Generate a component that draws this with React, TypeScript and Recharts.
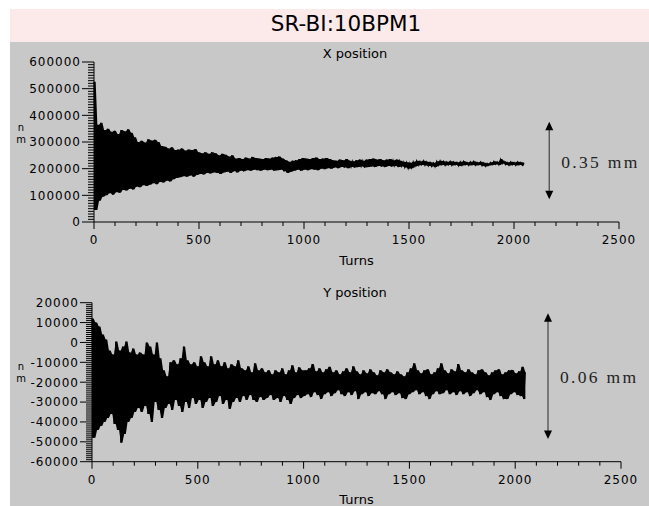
import React from "react";
import { ComposedChart, Area, Line, XAxis, YAxis, ReferenceLine } from "recharts";

// turns between two samples of the same envelope (high at 0,16,32..., low at 8,24,40...)
const TURN_STEP = 16;

const turnTicks = [0, 500, 1000, 1500, 2000, 2500];
const xPosTicks = [0, 100000, 200000, 300000, 400000, 500000, 600000];
const yPosTicks = [-60000, -50000, -40000, -30000, -20000, -10000, 0, 10000, 20000];

// X position, upper and lower edges of the trace, in um (x1000 nm)
const xHigh = [
  526, 365, 372, 345, 350, 338, 342, 330, 345, 340, 348, 335, 318, 300, 305, 298,
  310, 306, 308, 300, 285, 282, 276, 280, 270, 272, 276, 268, 272, 270, 274, 262,
  258, 262, 256, 262, 258, 250, 256, 252, 246, 250, 238, 240, 236, 242, 238, 244,
  240, 238, 236, 240, 238, 242, 244, 246, 238, 232, 226, 230, 232, 236, 240, 238,
  236, 240, 242, 236, 238, 240, 236, 232, 230, 234, 232, 236, 230, 228, 232, 234,
  230, 234, 236, 238, 234, 236, 232, 234, 236, 232, 234, 230, 226, 224, 222, 226,
  230, 228, 230, 226, 224, 222, 228, 230, 228, 226, 228, 226, 224, 226, 228, 224,
  226, 228, 224, 226, 222, 220, 224, 228, 226, 236, 228, 224, 226, 224, 226, 224,
  222,
];
const xLow = [
  45, 80, 95, 100, 108, 102, 112, 110, 120, 118, 125, 122, 132, 130, 138, 135,
  140, 145, 142, 150, 148, 155, 152, 160, 165, 168, 172, 170, 174, 170, 176, 180,
  178, 184, 182, 186, 184, 180, 186, 188, 184, 190, 186, 192, 190, 194, 192, 196,
  194, 192, 196, 194, 196, 192, 194, 196, 190, 184, 188, 192, 196, 192, 196, 194,
  198, 196, 194, 200, 198, 202, 200, 204, 202, 206, 204, 202, 206, 204, 206, 208,
  204, 206, 208, 206, 210, 208, 206, 210, 208, 210, 206, 208, 204, 200, 202, 208,
  212, 214, 212, 210, 208, 206, 212, 214, 212, 214, 212, 214, 210, 212, 214, 212,
  214, 212, 214, 210, 208, 212, 214, 216, 214, 218, 214, 212, 214, 212, 214, 212,
];

// Y position, upper and lower edges of the trace, in um (x1000 nm)
const yHigh = [
  12, 10, 8, 4, 1.5, -4, -6, 0.5, -4, -2, 0.5, -5, -3, -6, -5, -6,
  0, -2, -6, 0, -8, -14, -17, -10, -9, -11, -8, -2, -9, -11, -10, -12,
  -7, -10, -12, -7, -11, -9, -12, -10, -13, -11, -12, -9, -13, -14, -12, -15,
  -10.5, -14, -13, -15, -14, -16, -14, -15, -13, -16, -14, -11.5, -15, -12.5, -14, -14,
  -13, -10.8, -14.5, -13, -15, -13.5, -12.2, -15, -14, -16, -14.5, -13, -15, -12, -14.5, -16,
  -14, -15.5, -13.5, -15, -16.5, -14, -15, -13.5, -15, -16, -14.5, -16, -17, -15, -13, -10.5,
  -14, -15.5, -14, -13.5, -16, -15, -13, -10.5, -14, -15.5, -13.5, -14.5, -10.8, -14, -15, -13.5,
  -15, -16, -14, -13.5, -15, -16.5, -15, -14, -13.5, -16, -15, -14, -13.8, -15.5, -14.5, -12.2,
  -15,
];
const yLow = [
  -48, -44, -42, -40, -38, -36, -41, -44, -50.5, -46, -40, -38, -35, -33, -35, -32,
  -36, -40, -30, -34, -38, -33, -31, -34, -29, -32, -35, -30, -33, -28, -31, -29,
  -33, -30, -28, -32, -30, -27, -31, -29, -33.5, -30, -28, -30, -27, -29, -26.5, -29,
  -30, -27.5, -29, -28, -26.5, -29, -28, -30, -27, -29, -31, -28, -26.5, -28, -27, -26,
  -27.5, -25, -26.5, -28.5, -26, -25, -27, -25.5, -24, -26, -27, -25, -26.5, -24.5, -28.5, -26,
  -25, -27, -25.5, -26, -24.5, -26, -28.5, -26, -25, -26.5, -25.5, -28, -28.5, -26, -25, -24,
  -26, -25, -27, -28.5, -26, -24.5, -26, -25.5, -24, -26, -25, -26.5, -24.5, -26, -25, -27,
  -25.5, -24, -26, -25, -27.5, -29, -26, -25, -27, -28.5, -28.5, -26, -25, -26.5, -27, -28.5,
];

// peak-to-peak markers drawn right of the traces
const xSpan = { turn: 2168, top: 376000, bottom: 85000, text: "0.35 mm" };
const ySpan = { turn: 2155, top: 14700, bottom: -48600, text: "0.06 mm" };

const FONT = "'DejaVu Sans', sans-serif";

type Row = { turn: number; pos: number; band: [number, number] };

// trace alternates between the upper and lower edge; the band fills the space between them
function buildRows(high: number[], low: number[]) {
  const rows: Row[] = [];
  high.forEach((v, i) => {
    const lowNear = low[Math.max(0, i - 1)];
    rows.push({ turn: i * TURN_STEP, pos: v * 1000, band: [lowNear * 1000, v * 1000] });
    if (i < low.length) {
      rows.push({
        turn: i * TURN_STEP + TURN_STEP / 2,
        pos: low[i] * 1000,
        band: [low[i] * 1000, v * 1000],
      });
    }
  });
  return rows;
}

function withMinor(major: number[], parts: number) {
  const out: number[] = [];
  major.forEach((v, i) => {
    out.push(v);
    if (i < major.length - 1) {
      const step = (major[i + 1] - v) / parts;
      for (let k = 1; k < parts; k++) out.push(v + k * step);
    }
  });
  return out;
}

function BottomTick(props: any) {
  const { x, y, payload, majors } = props;
  const major = majors.includes(payload.value);
  return (
    <g>
      <line x1={x} y1={y} x2={x} y2={y + (major ? 7 : 4)} stroke="#000" />
      {major && (
        <text x={x} y={y + 22} textAnchor="middle" fontFamily={FONT} fontSize={12} letterSpacing={1} fill="#000">
          {payload.value}
        </text>
      )}
    </g>
  );
}

function LeftTick(props: any) {
  const { x, y, payload, majors } = props;
  const major = majors.includes(payload.value);
  return (
    <g>
      <line x1={x - (major ? 12 : 6)} y1={y} x2={x} y2={y} stroke="#000" />
      {major && (
        <text x={x - 13} y={y + 4.4} textAnchor="end" fontFamily={FONT} fontSize={12} letterSpacing={1} fill="#000">
          {payload.value}
        </text>
      )}
    </g>
  );
}

function SpanArrow(props: any) {
  const { x1, y1, y2, text } = props;
  const top = Math.min(y1, y2);
  const bot = Math.max(y1, y2);
  return (
    <g>
      <line x1={x1} y1={top + 6} x2={x1} y2={bot - 6} stroke="#555" strokeWidth={1.4} />
      <polygon points={`${x1},${top} ${x1 - 4},${top + 8.5} ${x1 + 4},${top + 8.5}`} fill="#000" />
      <polygon points={`${x1},${bot} ${x1 - 4},${bot - 8.5} ${x1 + 4},${bot - 8.5}`} fill="#000" />
      <text
        x={x1 + 12}
        y={(top + bot) / 2 + 7}
        fontFamily="'Liberation Serif', serif"
        fontSize={17.5}
        letterSpacing={2.3}
        fill="#222"
      >
        {text}
      </text>
    </g>
  );
}

function Panel(props: {
  data: Row[];
  yTicks: number[];
  span: { turn: number; top: number; bottom: number; text: string };
  height: number;
  margin: { top: number; right: number; left: number; bottom: number };
  yWidth: number;
  xHeight: number;
}) {
  const { data, yTicks, span, height, margin, yWidth, xHeight } = props;
  const xAll = withMinor(turnTicks, 5);
  const yAll = withMinor(yTicks, 10);
  return (
    <ComposedChart width={639} height={height} data={data} margin={margin}>
      <XAxis
        dataKey="turn"
        type="number"
        domain={[0, 2500]}
        ticks={xAll}
        interval={0}
        height={xHeight}
        tickSize={0}
        tickMargin={0}
        tickLine={false}
        axisLine={{ stroke: "#000" }}
        tick={(p: any) => <BottomTick {...p} majors={turnTicks} />}
        label={{ value: "Turns", position: "insideBottom", offset: 1, fill: "#000", fontSize: 13, fontFamily: FONT }}
      />
      <YAxis
        type="number"
        domain={[yTicks[0], yTicks[yTicks.length - 1]]}
        ticks={yAll}
        interval={0}
        width={yWidth}
        tickSize={0}
        tickMargin={0}
        tickLine={false}
        axisLine={{ stroke: "#000" }}
        tick={(p: any) => <LeftTick {...p} majors={yTicks} />}
      />
      <Area
        type="linear"
        dataKey="band"
        stroke="none"
        fill="#000"
        fillOpacity={1}
        dot={false}
        activeDot={false}
        isAnimationActive={false}
      />
      <Line
        type="linear"
        dataKey="pos"
        stroke="#000"
        strokeWidth={1.1}
        dot={false}
        activeDot={false}
        isAnimationActive={false}
      />
      <ReferenceLine
        segment={[
          { x: span.turn, y: span.top },
          { x: span.turn, y: span.bottom },
        ]}
        shape={(p: any) => <SpanArrow {...p} text={span.text} />}
      />
    </ComposedChart>
  );
}

const textStyle: React.CSSProperties = {
  position: "absolute",
  fontFamily: FONT,
  color: "#000",
  whiteSpace: "nowrap",
};

export default function App() {
  const xData = buildRows(xHigh, xLow);
  const yData = buildRows(yHigh, yLow);
  return (
    <div
      style={{
        position: "absolute",
        left: 10,
        top: 9,
        width: 639,
        height: 497,
        background: "#c8c8c8",
        overflow: "hidden",
      }}
    >
      <div
        style={{
          height: 33,
          lineHeight: "30px",
          background: "#fceaea",
          fontFamily: FONT,
          fontSize: 21.5,
          textAlign: "center",
          paddingLeft: 33,
          boxSizing: "border-box",
          color: "#000",
        }}
      >
        SR-BI:10BPM1
      </div>

      <div style={{ ...textStyle, left: 245, top: 38, width: 200, textAlign: "center", fontSize: 13, lineHeight: "13px" }}>
        X position
      </div>
      <div style={{ ...textStyle, left: 5, top: 113, width: 12, textAlign: "center", fontSize: 10, lineHeight: "12px" }}>
        n<br />m
      </div>
      <div style={{ position: "absolute", left: 0, top: 33 }}>
        <Panel
          data={xData}
          yTicks={xPosTicks}
          span={xSpan}
          height={230}
          margin={{ top: 20, right: 30, left: 0, bottom: 6 }}
          yWidth={84}
          xHeight={44}
        />
      </div>

      <div style={{ ...textStyle, left: 245, top: 277, width: 200, textAlign: "center", fontSize: 13, lineHeight: "13px" }}>
        Y position
      </div>
      <div style={{ ...textStyle, left: 5, top: 352, width: 12, textAlign: "center", fontSize: 10, lineHeight: "12px" }}>
        n<br />m
      </div>
      <div style={{ position: "absolute", left: 0, top: 263 }}>
        <Panel
          data={yData}
          yTicks={yPosTicks}
          span={ySpan}
          height={234}
          margin={{ top: 30.7, right: 28, left: 0, bottom: 1.3 }}
          yWidth={82}
          xHeight={43}
        />
      </div>
    </div>
  );
}
